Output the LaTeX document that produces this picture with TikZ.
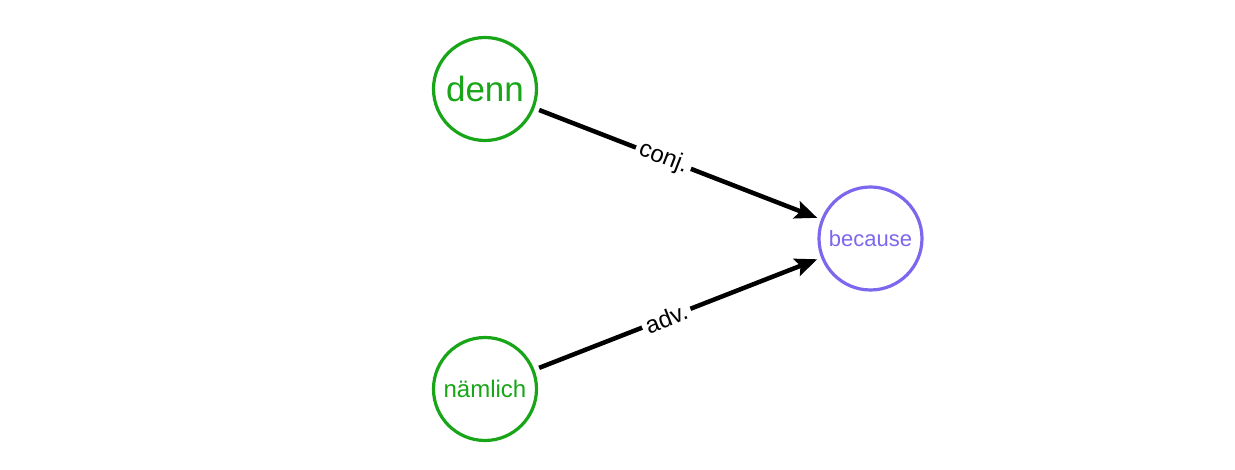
\documentclass[tikz,border=0pt]{standalone}
\usepackage{fontspec}
\setmainfont{Liberation Sans}
\usetikzlibrary{positioning,arrows.meta}
\definecolor{degreen}{RGB}{24,165,24}
\definecolor{enpurple}{RGB}{123,104,238}

\begin{document}
\begin{tikzpicture}[x=1pt,y=1pt,on grid,
        word node/.style={circle, draw, line width=3.2pt, fill=white,
        inner sep=0pt, minimum size=103pt},
        de node/.style={word node, draw=degreen, text=degreen},
        en node/.style={word node, draw=enpurple, text=enpurple},
        rel/.style={-{Stealth[length=22pt,width=18pt,inset=4pt]}, line width=4.5pt,
        shorten <=5pt, shorten >=4pt},
        rel label/.style={fill=white, sloped, inner sep=4pt,
        font=\fontsize{24}{28}\selectfont}
        ]

        \node [de node, font=\fontsize{35}{40}\selectfont] (denn) {denn} ;
        \node [de node, font=\fontsize{24}{28}\selectfont] (naemlich) [below = 300pt of denn] {nämlich} ;
        \node [en node, font=\fontsize{22}{26}\selectfont] (because) [below right = 149.5pt and 385.5pt of denn] {because} ;

        \useasboundingbox ([xshift=-485pt,yshift=89pt]denn.center) rectangle ++(1235pt,-470pt);

        \path
        (denn) edge [rel] node [rel label, pos=0.45] {conj.} (because)
        (naemlich) edge [rel] node [rel label, pos=0.46] {adv.} (because)
        ;
     \end{tikzpicture}
\end{document}
